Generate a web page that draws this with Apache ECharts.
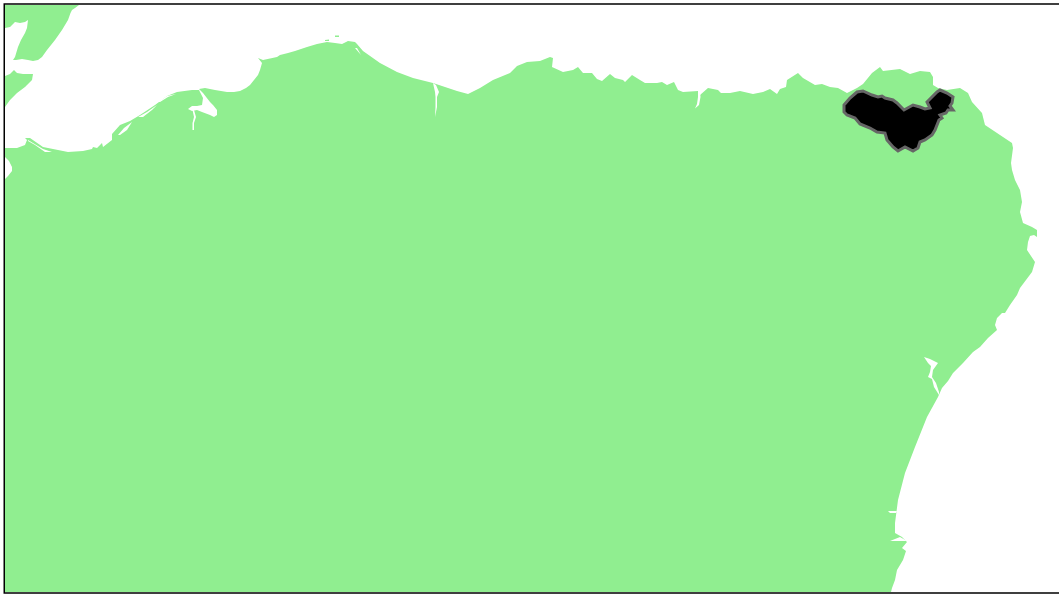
<!DOCTYPE html>
<html><head><meta charset="utf-8">
<style>html,body{margin:0;padding:0;background:#fff}#c{width:1059px;height:594px}</style>
<script src="https://cdn.jsdelivr.net/npm/echarts@6/dist/echarts.min.js"></script>
</head><body><div id="c"></div>
<script>
const upperWedge=[[5,5],[79,5],[75,8],[72,10],[70.5,13],[68,20],[62,30],[55,40],[47,50],[42,57],[38,60],[33,61],[28,60],[22,59],[16,60],[13,60],[15,57],[18,47],[21,40],[25,33],[27,28],[28,20],[25,22],[20,23],[15,22],[10,27],[5,28]];
const lowerWedge=[[5,76],[10,74],[14,70],[17,73],[23,74],[33,74],[32,80],[25,87],[17,93],[10,100],[5,107]];
const mainland=[[5,148],[17,148],[25,145],[27,140],[25,138],[30,138],[43,147],[53,149],[68,152],[83,151],[92,149],[93,147],[97,148],[102,143],[103,147],[112,140],[113,140],[112,134],[120,125],[130,121],[140,115],[155,105],[167,96],[177,92],[192,90],[199,90],[203,98],[202,105],[197,106],[192,106],[188,109],[192,111],[197,110],[202,112],[210,115],[214,117],[217,115],[217,110],[213,105],[210,102],[203,93],[199,89],[205,88],[215,90],[227,92],[234,92],[240,91],[246,88],[250,85],[254,80],[258,75],[260,70],[262,63],[258,58],[263,60],[277,57],[280,55],[288,53],[295,51],[307,47],[317,44],[327,42],[335,43],[342,44],[348,41],[355,42],[357,44],[363,51],[380,63],[397,72],[413,78],[433,83],[457,91],[468,94],[480,88],[493,80],[510,73],[517,66],[527,62],[540,61],[550,57],[553,58],[552,67],[563,72],[573,70],[578,67],[583,73],[592,73],[597,79],[602,81],[610,74],[615,78],[623,80],[625,82],[632,75],[640,80],[645,83],[657,83],[662,82],[667,85],[674,82],[678,90],[683,92],[698,91],[700,95],[708,88],[718,90],[721,93],[730,93],[740,91],[753,94],[763,92],[770,89],[777,94],[780,89],[786,87],[787,80],[798,73],[803,78],[815,85],[822,84],[830,87],[838,88],[847,93],[857,88],[863,84],[872,73],[880,67],[883,71],[900,69],[910,74],[920,71],[930,72],[933,77],[933,85],[938,88],[947,90],[960,88],[968,93],[972,102],[982,113],[985,125],[997,133],[1012,143],[1013,148],[1011,163],[1012,170],[1015,180],[1020,190],[1022,202],[1020,212],[1023,223],[1032,227],[1037,230],[1037,237],[1034,235],[1030,236],[1028,242],[1027,250],[1035,262],[1032,272],[1020,288],[1017,295],[1010,305],[1005,313],[1002,313],[997,318],[995,325],[997,330],[988,338],[980,347],[973,352],[963,363],[953,373],[948,381],[942,388],[938,397],[927,417],[915,447],[905,473],[898,500],[895,523],[895,533],[902,537],[907,542],[902,548],[906,551],[903,560],[897,570],[895,580],[892,588],[891,592],[5,592]];
const islets=[[[325,40],[329,39.5],[329,41],[325,41]],[[335,35.5],[339,35.5],[339,37],[335,37]]];
const waterways=[
 [[5,157],[9,161],[12,167],[12,171],[8,176],[5,179]],
 [[28,140],[33,143],[43,149],[52,152],[45,152],[35,145],[28,141]],
 [[118,135],[124,128],[132,122],[127,130],[120,135]],
 [[138,117],[147,112],[157,105],[152,110],[143,117]],
 [[158,102],[167,96],[176,94],[168,97],[160,102]],
 [[192,108],[194,110],[196,117],[194,123],[194,130],[192.5,130],[192.5,123],[194,117],[192.5,110]],
 [[355,48],[357,48],[361,55],[360,55]],
 [[433,83],[436,85],[439,92],[437,97],[437,107],[435,117],[434.5,117],[435.5,107],[435.5,97],[435,92]],
 [[698,91],[700,91],[700.5,97],[699,105],[695,108.5],[697,104],[698,97]],
 [[924,357],[930,359],[938,363],[933,370],[932,377],[936,383],[939,392],[939,395],[938,395],[934,387],[932,379],[928,377],[927,376],[930,372],[931,366],[928,363]],
 [[888,511],[897,511],[896,513],[890,513]],
 [[890,541],[900,537],[907,541],[898,541]]
];
const district=[[844,105],[850,98],[857,92],[863,91],[872,95],[878,97],[882,96],[885,98],[893,100],[897,103],[904,110],[913,105],[920,107],[925,109],[930,108],[927,102],[937,92],[940,90],[947,93],[953,97],[952,103],[950,106],[953,110],[948,110],[946,113],[940,115],[942,118],[939,120],[935,130],[932,135],[925,140],[920,142],[918,148],[913,151],[905,147],[898,151],[893,147],[887,140],[885,133],[877,132],[870,128],[860,124],[855,118],[847,115],[844,112]];

const closed=r=>r.concat([r[0]]);
const feature=(name,rings)=>({type:'Feature',properties:{name},geometry:{type:'MultiPolygon',coordinates:rings.map(r=>[closed(r)])}});
echarts.registerMap('coast',{type:'FeatureCollection',features:[
 feature('Land',[upperWedge,lowerWedge,mainland,...islets]),
 feature('Water',waterways),
 feature('District',[district])
]});
const chart=echarts.init(document.getElementById('c'));
chart.setOption({
 animation:false,
 geo:{map:'coast',roam:false,silent:true,aspectScale:1,
  projection:{project:p=>p,unproject:p=>p},
  boundingCoords:[[0,0],[1059,594]],left:0,top:0,width:1059,height:594,
  label:{show:false},
  itemStyle:{areaColor:'#90EE90',borderWidth:0},
  regions:[
   {name:'Land',itemStyle:{areaColor:'#90EE90',borderWidth:0}},
   {name:'Water',itemStyle:{areaColor:'#ffffff',borderWidth:0}},
   {name:'District',itemStyle:{areaColor:'#000000',borderColor:'#666666',borderWidth:3}}
  ]},
 graphic:[{type:'rect',silent:true,z:50,shape:{x:4.25,y:4,width:1100,height:589},style:{fill:'none',stroke:'#000',lineWidth:1.5}}]
});
</script></body></html>
